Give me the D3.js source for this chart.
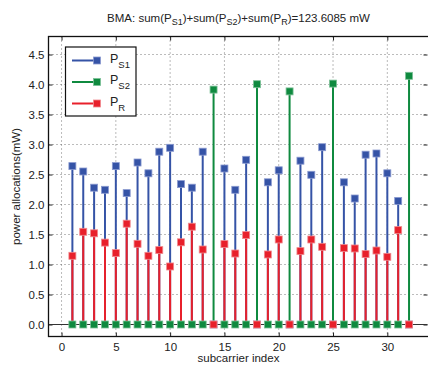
<!DOCTYPE html>
<html>
<head>
<meta charset="utf-8">
<script src="https://cdn.jsdelivr.net/npm/d3@7"></script>
<style>
  body { margin: 0; background: #fff; }
  svg { display: block; font-family: "Liberation Sans", Arial, sans-serif; }
</style>
</head>
<body>
<div id="chart"></div>
<script>
// subcarrier index 1..32
const subcarriers = d3.range(1, 33)

// power values (mW)
const ps1 = [2.64, 2.55, 2.28, 2.245, 2.64, 2.19, 2.70, 2.52, 2.88, 2.945,
             2.34, 2.28, 2.88, 0, 2.60, 2.245, 2.745, 0, 2.37, 2.57,
             0, 2.73, 2.495, 2.955, 0, 2.37, 2.10, 2.83, 2.85, 2.52, 2.06, 0]
const ps2 = [0, 0, 0, 0, 0, 0, 0, 0, 0, 0,
             0, 0, 0, 3.915, 0, 0, 0, 4.005, 0, 0,
             3.885, 0, 0, 0, 4.015, 0, 0, 0, 0, 0, 0, 4.145]
const pr  = [1.145, 1.545, 1.52, 1.365, 1.19, 1.68, 1.345, 1.145, 1.24, 0.967,
             1.37, 1.63, 1.25, 0, 1.34, 1.183, 1.49, 0, 1.167, 1.417,
             0, 1.223, 1.417, 1.295, 0, 1.273, 1.267, 1.173, 1.233, 1.128, 1.573, 0]

const xTicks = [0, 5, 10, 15, 20, 25, 30]
const yTicks = [0, 0.5, 1, 1.5, 2, 2.5, 3, 3.5, 4, 4.5]

const series = [
  {name: "S1", vals: ps1, color: "#3553a6", edge: "#8a9ad0"},
  {name: "S2", vals: ps2, color: "#0f8a3f", edge: "#7cc097"},
  {name: "R",  vals: pr,  color: "#e8202b", edge: "#f08a8f"}
]

const W = 428, H = 365
const svg = d3.select("#chart").append("svg").attr("width", W).attr("height", H)

const x = d3.scaleLinear().domain([-1.2, 33.7]).range([48.5, 427.5])
const y = d3.scaleLinear().domain([-0.2, 4.8]).range([336.5, 36.5])

const pLeft = x.range()[0], pRight = x.range()[1]
const pTop = y.range()[1], pBottom = y.range()[0]

// dotted grid
const grid = svg.append("g").attr("stroke", "#555").attr("stroke-width", 0.8)
  .attr("stroke-dasharray", "1,3")
grid.selectAll(".gx").data(xTicks).join("line").attr("class", "gx")
  .attr("x1", d => x(d)).attr("x2", d => x(d))
  .attr("y1", pTop).attr("y2", pBottom)
grid.selectAll(".gy").data(yTicks).join("line").attr("class", "gy")
  .attr("x1", pLeft).attr("x2", pRight)
  .attr("y1", d => y(d)).attr("y2", d => y(d))

// axes (ticks inward, matlab style)
const tk = 4
const axB = svg.append("g").attr("transform", `translate(0,${pBottom})`)
  .call(d3.axisBottom(x).tickValues(xTicks).tickSize(-tk).tickPadding(6))
const axT = svg.append("g").attr("transform", `translate(0,${pTop})`)
  .call(d3.axisTop(x).tickValues(xTicks).tickSize(-tk).tickFormat(""))
const axL = svg.append("g").attr("transform", `translate(${pLeft},0)`)
  .call(d3.axisLeft(y).tickValues(yTicks).tickSize(-tk).tickPadding(4))
const axR = svg.append("g").attr("transform", `translate(${pRight},0)`)
  .call(d3.axisRight(y).tickValues(yTicks).tickSize(-tk).tickFormat(""))
;[axB, axT, axL, axR].forEach(a => {
  a.select(".domain").remove()
  a.selectAll("line").attr("stroke", "#222")
  a.selectAll("text").attr("font-size", 11.5).attr("fill", "#222")
    .attr("font-family", "Liberation Sans, Arial, sans-serif")
})

// stem baseline at zero
svg.append("line")
  .attr("x1", pLeft).attr("x2", pRight)
  .attr("y1", y(0)).attr("y2", y(0))
  .attr("stroke", "#333").attr("stroke-width", 1)

// stems
series.forEach(s => {
  svg.append("g").selectAll("line").data(subcarriers).join("line")
    .attr("x1", d => x(d)).attr("x2", d => x(d))
    .attr("y1", y(0)).attr("y2", (d, i) => y(s.vals[i]))
    .attr("stroke", s.color).attr("stroke-width", 2)
})
// markers on top
const ms = 7
series.forEach(s => {
  svg.append("g").selectAll("rect").data(subcarriers).join("rect")
    .attr("x", d => x(d) - ms / 2)
    .attr("y", (d, i) => y(s.vals[i]) - ms / 2)
    .attr("width", ms).attr("height", ms)
    .attr("fill", s.color).attr("stroke", s.edge).attr("stroke-width", 0.8)
})

// box
svg.append("rect")
  .attr("x", pLeft).attr("y", pTop)
  .attr("width", pRight - pLeft + 3).attr("height", pBottom - pTop)
  .attr("fill", "none").attr("stroke", "#111").attr("stroke-width", 1.3)

// legend
const lg = svg.append("g")
lg.append("rect").attr("x", 65.5).attr("y", 47).attr("width", 70.5).attr("height", 69)
  .attr("fill", "#fff").attr("stroke", "#111").attr("stroke-width", 1.2)
series.forEach((s, i) => {
  const ly = 60.5 + i * 21.5
  lg.append("line").attr("x1", 72).attr("x2", 97).attr("y1", ly).attr("y2", ly)
    .attr("stroke", s.color).attr("stroke-width", 2)
  lg.append("rect").attr("x", 97 - ms / 2).attr("y", ly - ms / 2)
    .attr("width", ms).attr("height", ms)
    .attr("fill", s.color).attr("stroke", s.edge).attr("stroke-width", 0.8)
  const t = lg.append("text").attr("x", 110).attr("y", ly + 2)
    .attr("font-size", 12.5).attr("fill", "#222")
  t.append("tspan").text("P")
  t.append("tspan").attr("dy", 5).attr("font-size", 9.5).text(s.name)
})

// title
const title = svg.append("text").attr("x", 238.5).attr("y", 22)
  .attr("text-anchor", "middle").attr("font-size", 11.5).attr("fill", "#222")
title.append("tspan").text("BMA: sum(P")
title.append("tspan").attr("dy", 3).attr("font-size", 9).text("S1")
title.append("tspan").attr("dy", -3).text(")+sum(P")
title.append("tspan").attr("dy", 3).attr("font-size", 9).text("S2")
title.append("tspan").attr("dy", -3).text(")+sum(P")
title.append("tspan").attr("dy", 3).attr("font-size", 9).text("R")
title.append("tspan").attr("dy", -3).text(")=123.6085 mW")

// axis labels
svg.append("text").attr("x", 238.5).attr("y", 362)
  .attr("text-anchor", "middle").attr("font-size", 11.5).attr("fill", "#222")
  .text("subcarrier index")
svg.append("text")
  .attr("transform", `translate(20,${(pTop + pBottom) / 2}) rotate(-90)`)
  .attr("text-anchor", "middle").attr("font-size", 11.5).attr("fill", "#222")
  .text("power allocations(mW)")
</script>
</body>
</html>
